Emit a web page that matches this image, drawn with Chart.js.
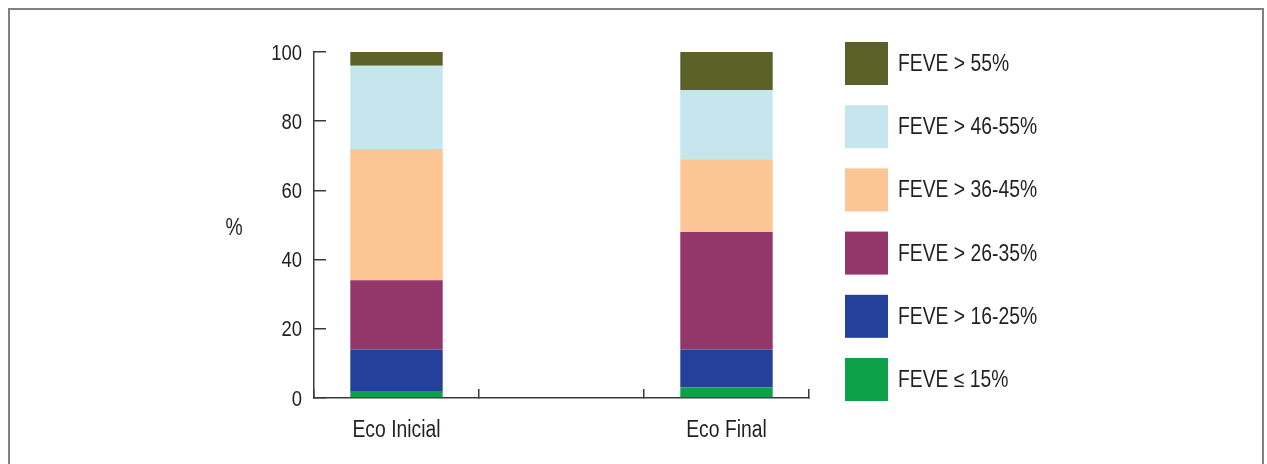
<!DOCTYPE html>
<html>
<head>
<meta charset="utf-8">
<script src="https://cdn.jsdelivr.net/npm/chart.js@4.4.1/dist/chart.umd.min.js"></script>
<style>
  html, body { margin: 0; padding: 0; background: #fff; }
  #wrap { position: relative; width: 1267px; height: 464px; overflow: hidden; }
  #frame { position: absolute; left: 8px; top: 8px; width: 1252px; height: 500px;
           border: 2px solid #808080; }
  #myChart { position: absolute; left: 0; top: 0; }
</style>
</head>
<body>
<div id="wrap">
  <div id="frame"></div>
  <canvas id="myChart" width="1267" height="464"></canvas>
</div>
<script>
const FONT = '"Liberation Sans", Arial, sans-serif';
const TEXT = '#231f20';
const NARROW = 0.84; // the original uses a narrow Helvetica

// categories (middle slot is empty in the original)
const labels = ['Eco Inicial', '', 'Eco Final'];

// % of patients per LVEF band, bottom to top
const feve15 = [2, null, 3];
const feve16_25 = [12, null, 11];
const feve26_35 = [20, null, 34];
const feve36_45 = [38, null, 21];
const feve46_55 = [24, null, 20];
const feve55 = [4, null, 11];

const yTicks = [0, 20, 40, 60, 80, 100];

const seriesNames = ['FEVE \u2264 15%', 'FEVE > 16-25%', 'FEVE > 26-35%', 'FEVE > 36-45%', 'FEVE > 46-55%', 'FEVE > 55%'];
const seriesColors = ['#0fa04a', '#24409a', '#933669', '#fcc594', '#c4e6ec', '#5b6128'];
const seriesData = [feve15, feve16_25, feve26_35, feve36_45, feve46_55, feve55];

const chartEl = document.getElementById('myChart');

function narrowText(ctx, s, x, y, align, size) {
    ctx.save();
    ctx.font = size + 'px ' + FONT;
    ctx.fillStyle = TEXT;
    ctx.textAlign = align;
    ctx.textBaseline = 'alphabetic';
    ctx.translate(x, y);
    ctx.scale(NARROW, 1);
    ctx.fillText(s, 0, 0);
    ctx.restore();
}

// tick labels, "%" label and legend, all in narrow type
const textLayer = {
    id: 'textLayer',
    afterDraw(chart) {
        const ctx = chart.ctx;
        const area = chart.chartArea;
        const xs = chart.scales.x;
        const ys = chart.scales.y;

        ys.ticks.forEach(t => {
            const py = ys.getPixelForValue(t.value);
            narrowText(ctx, String(t.value), ys.right - 12, py + 7.5, 'right', 22);
        });
        chart.data.labels.forEach((lab, i) => {
            if (!lab) return;
            narrowText(ctx, lab, xs.getPixelForValue(i), xs.top + 38.5, 'center', 23);
        });

        narrowText(ctx, '%', area.left - 80, (area.top + area.bottom) / 2 + 10, 'center', 23);

        const ds = chart.data.datasets.slice().reverse();
        ds.forEach((d, i) => {
            const bx = area.right + 36;
            const by = area.top - 10 + i * 63.2;
            ctx.fillStyle = d.backgroundColor;
            ctx.fillRect(bx, by, 43, 43);
            narrowText(ctx, d.label, bx + 53, by + 29, 'left', 23);
        });
    }
};

const datasets = seriesData.map((vals, i) => ({
    label: seriesNames[i],
    data: vals,
    backgroundColor: seriesColors[i],
    borderWidth: 0,
    barPercentage: 0.56,
    categoryPercentage: 1.0,
}));

const config = {
    type: 'bar',
    data: { labels: labels, datasets: datasets },
    options: {
        responsive: false,
        animation: false,
        layout: {
            padding: { top: 52, right: 458, bottom: 0, left: 0 }
        },
        plugins: {
            legend: { display: false },
            tooltip: { enabled: false },
        },
        scales: {
            x: {
                stacked: true,
                afterFit(scale) { scale.height = 66; },
                border: { color: '#3a3a3a', width: 1.5 },
                grid: {
                    offset: true,
                    drawOnChartArea: false,
                    tickLength: -9,
                    color: '#3a3a3a',
                    lineWidth: 1.5,
                },
                ticks: { display: false },
            },
            y: {
                stacked: true,
                min: 0,
                max: 100,
                afterFit(scale) { scale.width = 314; },
                afterBuildTicks(scale) { scale.ticks = yTicks.map(v => ({ value: v })); },
                border: { color: '#3a3a3a', width: 1.5 },
                grid: {
                    drawOnChartArea: false,
                    tickLength: -12,
                    color: '#3a3a3a',
                    lineWidth: 1.5,
                },
                ticks: { display: false },
            },
        }
    },
    plugins: [textLayer]
};

const myChart = new Chart(chartEl, config);
</script>
</body>
</html>
